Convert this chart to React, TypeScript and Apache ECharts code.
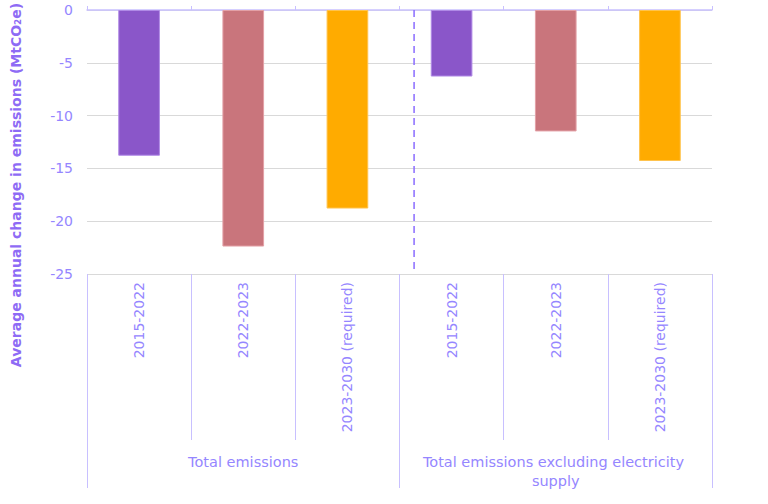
import { useEffect, useRef } from 'react';
import * as echarts from 'echarts';

const periods = ['2015-2022', '2022-2023', '2023-2030 (required)', '2015-2022', '2022-2023', '2023-2030 (required)'];
const groups = ['Total emissions', 'Total emissions excluding electricity supply'];
const changes = [-13.8, -22.4, -18.8, -6.3, -11.5, -14.3];
const yTicks = [0, -5, -10, -15, -20, -25];
// dashed divider, measured in category bands from the left edge of the plot
const dividerAt = 3.14;

const barColors = ['#8a56c9', '#c9757c', '#ffab00', '#8a56c9', '#c9757c', '#ffab00'];
const barBorders = ['#b08ae6', '#e3a0a6', '#ffc34d', '#b08ae6', '#e3a0a6', '#ffc34d'];

const FONT = '"DejaVu Sans", sans-serif';
const TEXT = '#9586ff';
const LINE = '#c8c0ff';

export default function App() {
  const chartRef = useRef<HTMLDivElement>(null);

  useEffect(() => {
    document.body.style.margin = '0';
    if (!chartRef.current) return;
    const chart = echarts.init(chartRef.current, null, { renderer: 'svg' });

    chart.setOption({
      animation: false,
      textStyle: { fontFamily: FONT },
      grid: { left: 87, right: 56, top: 10, bottom: 230 },
      xAxis: [
        {
          type: 'category',
          data: periods,
          position: 'bottom',
          axisLine: { show: false, onZero: false },
          axisTick: { show: true, interval: 0, length: 166, lineStyle: { color: LINE } },
          axisLabel: { interval: 0, rotate: 90, margin: 8, color: TEXT, fontSize: 14, fontFamily: FONT },
        },
        {
          type: 'category',
          data: groups,
          position: 'bottom',
          axisLine: { show: false, onZero: false },
          axisTick: { show: true, interval: 0, length: 214, lineStyle: { color: LINE } },
          axisLabel: {
            interval: 0,
            margin: 178,
            color: TEXT,
            fontSize: 14.5,
            fontFamily: FONT,
            width: 290,
            overflow: 'break',
            lineHeight: 19,
          },
        },
        {
          type: 'category',
          data: periods,
          position: 'top',
          axisLine: { onZero: false, lineStyle: { color: LINE, width: 1.5 } },
          axisTick: { show: true, interval: 0, length: 4, lineStyle: { color: LINE } },
          axisLabel: { show: false },
        },
      ],
      yAxis: {
        type: 'value',
        min: yTicks[yTicks.length - 1],
        max: yTicks[0],
        interval: 5,
        axisLine: { show: false, onZero: false },
        axisTick: { show: false },
        axisLabel: { color: TEXT, fontSize: 14, margin: 14, fontFamily: FONT },
        splitLine: { lineStyle: { color: '#d9d9d9' } },
      },
      series: [
        {
          type: 'bar',
          xAxisIndex: 0,
          barWidth: '40%',
          data: changes.map((v, i) => ({
            value: v,
            itemStyle: { color: barColors[i], borderColor: barBorders[i], borderWidth: 1 },
          })),
        },
      ],
    });

    // divider line placed through the chart's own scales
    const c0 = chart.convertToPixel({ xAxisIndex: 0 }, 0) as number;
    const c1 = chart.convertToPixel({ xAxisIndex: 0 }, 1) as number;
    const band = c1 - c0;
    const lineX = c0 - band / 2 + dividerAt * band;
    const yTop = chart.convertToPixel({ yAxisIndex: 0 }, yTicks[0]) as number;
    const yBottom = chart.convertToPixel({ yAxisIndex: 0 }, yTicks[yTicks.length - 1]) as number;

    chart.setOption({
      graphic: [
        {
          type: 'line',
          silent: true,
          shape: { x1: lineX, y1: yTop, x2: lineX, y2: yBottom },
          style: { stroke: '#8a6cff', lineWidth: 1.5, lineDash: [7, 5] },
          z: 10,
        },
        {
          type: 'text',
          x: 16,
          y: 185,
          rotation: Math.PI / 2,
          style: {
            text: 'Average annual change in emissions (MtCO₂e)',
            fontFamily: FONT,
            fontSize: 14,
            fontWeight: 'bold',
            fill: '#8e6bf5',
            align: 'center',
            verticalAlign: 'middle',
          },
        },
      ],
    });

    return () => chart.dispose();
  }, []);

  return <div ref={chartRef} style={{ width: 768, height: 504 }} />;
}
